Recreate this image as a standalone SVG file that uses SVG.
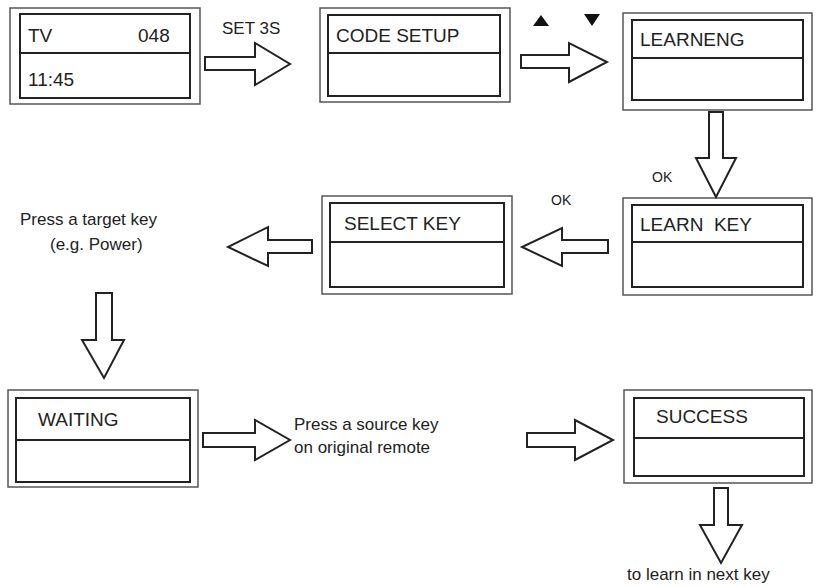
<svg xmlns="http://www.w3.org/2000/svg" width="817" height="587" viewBox="0 0 817 587">
<style>
.o{fill:#fff;stroke:#555;stroke-width:1.5}
.i{fill:#fff;stroke:#222;stroke-width:2}
.d{stroke:#222;stroke-width:2}
.a{fill:#fff;stroke:#222;stroke-width:2;stroke-linejoin:miter}
text{font-family:"Liberation Sans",Arial,sans-serif;fill:#222;font-size:19px}
.s{font-size:17px}
.k{font-size:14px}
</style>
<rect width="817" height="587" fill="#fff"/>
<g id="n-tv"><rect class="o" x="10" y="8" width="190" height="96"/><rect class="i" x="20" y="14" width="170" height="84"/><line class="d" x1="20" y1="53" x2="190" y2="53"/><text x="28" y="42">TV</text><text x="138" y="42">048</text><text x="28" y="86">11:45</text></g>
<g id="n-code"><rect class="o" x="320" y="8" width="190" height="94"/><rect class="i" x="328" y="15" width="172" height="81"/><line class="d" x1="328" y1="53" x2="500" y2="53"/><text x="336" y="42">CODE SETUP</text></g>
<g id="n-learneng"><rect class="o" x="623" y="13" width="189" height="97"/><rect class="i" x="632" y="20" width="171" height="80"/><line class="d" x1="632" y1="58" x2="803" y2="58"/><text x="640" y="46">LEARNENG</text></g>
<g id="n-learnkey"><rect class="o" x="623" y="198" width="189" height="97"/><rect class="i" x="632" y="205" width="171" height="82"/><line class="d" x1="632" y1="242" x2="803" y2="242"/><text x="640" y="231" xml:space="preserve" style="white-space:pre">LEARN  KEY</text></g>
<g id="n-select"><rect class="o" x="322" y="196" width="190" height="98"/><rect class="i" x="330" y="203" width="174" height="84"/><line class="d" x1="330" y1="242" x2="504" y2="242"/><text x="344" y="230">SELECT KEY</text></g>
<g id="n-waiting"><rect class="o" x="8" y="390" width="190" height="97"/><rect class="i" x="16" y="398" width="174" height="84"/><line class="d" x1="16" y1="440" x2="190" y2="440"/><text x="38" y="426">WAITING</text></g>
<g id="n-success"><rect class="o" x="624" y="390" width="188" height="93"/><rect class="i" x="634" y="398" width="170" height="78"/><line class="d" x1="634" y1="438" x2="804" y2="438"/><text x="656" y="423">SUCCESS</text></g>
<g id="connectors">
<polygon class="a" points="205,57 255,57 255,43 290,64 255,85 255,70 205,70"/>
<polygon class="a" points="521,55 569,55 569,43 607,62 569,82 569,68 521,68"/>
<polygon class="a" points="709,112 723,112 723,158 736,158 716,197 696,158 709,158"/>
<polygon class="a" points="608,240 562,240 562,228 522,247 562,266 562,253 608,253"/>
<polygon class="a" points="312,240 268,240 268,227 228,247 268,266 268,253 312,253"/>
<polygon class="a" points="96,293 112,293 112,340 124,340 104,378 82,340 96,340"/>
<polygon class="a" points="203,433 255,433 255,420 290,440 255,460 255,447 203,447"/>
<polygon class="a" points="527,433 575,433 575,420 613,440 575,460 575,447 527,447"/>
<polygon class="a" points="714,488 728,488 728,525 742,525 721,563 700,525 714,525"/>
</g>
<polygon points="533,26 541,15 549,26" fill="#111"/>
<polygon points="584,14 600,14 592,26" fill="#111"/>
<text class="s" x="222" y="34">SET 3S</text>
<text class="k" x="652" y="182">OK</text>
<text class="k" x="551" y="205">OK</text>
<text class="s" x="20" y="225">Press a target key</text>
<text class="s" x="50" y="250">(e.g. Power)</text>
<text class="s" x="294" y="430">Press a source key</text>
<text class="s" x="294" y="453">on original remote</text>
<text class="s" x="627" y="580">to learn in next key</text>
</svg>
